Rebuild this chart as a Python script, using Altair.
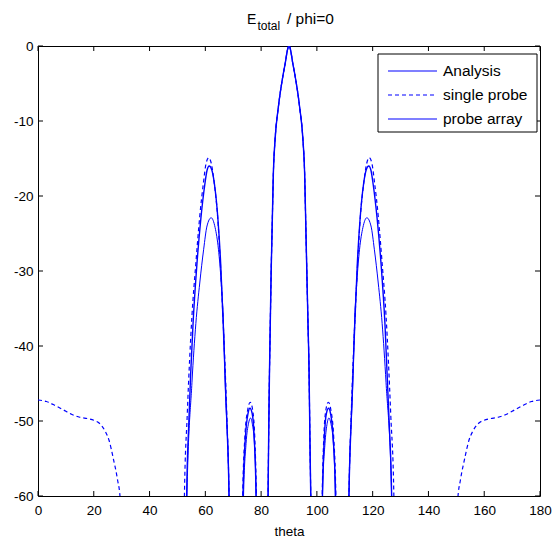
import altair as alt
import pandas as pd

BLUE = "#0000ff"
FONT = "Liberation Sans"

# ---------------- data ----------------
analysis_theta = [53.0, 53.3, 54.1, 55.6, 57.0, 58.4, 59.8, 60.6, 61.4, 62.3, 63.3, 64.5, 65.5, 66.4, 67.7, 68.5, 69.0,
                  73.1, 73.5, 74.4, 75.3, 76.0, 76.8, 77.5, 78.2, 78.7,
                  82.1, 82.5, 82.7, 83.0, 83.3, 83.6, 84.0, 84.4, 85.0, 86.2, 88.0, 88.7, 89.3, 89.7, 90.0,
                  90.3, 90.7, 91.3, 92.0, 93.8, 95.0, 95.6, 96.0, 96.4, 96.8, 97.2, 97.5, 97.8, 98.2,
                  101.5, 102.0, 102.7, 103.4, 104.2, 104.9, 105.8, 106.7, 107.1,
                  111.0, 111.5, 112.3, 113.6, 114.5, 115.5, 116.7, 117.7, 118.6, 119.4, 120.2, 121.6, 123.0, 124.4, 125.9, 126.8, 127.2]
analysis_db = [-75, -60, -50, -37, -29, -23, -18.5, -16.6, -16.0, -16.5, -18.5, -23, -29, -37, -50, -60, -75,
               -75, -60, -52, -49, -48.3, -49, -52, -60, -75,
               -75, -60, -52.4, -43.5, -36.8, -30.2, -23.5, -16.9, -12.5, -8.1, -3.6, -2.2, -0.8, -0.15, 0,
               -0.15, -0.8, -2.2, -3.6, -8.1, -12.5, -16.9, -23.5, -30.2, -36.8, -43.5, -52.4, -60, -75,
               -75, -60, -52, -49, -48.3, -49, -52, -60, -75,
               -75, -60, -50, -37, -29, -23, -18.5, -16.5, -16.0, -16.6, -18.5, -23, -29, -37, -50, -60, -75]

single_theta = [0, 3, 6, 9, 12, 15, 18, 20, 22, 24, 25.5, 27, 28.5, 29.5, 30.5,
                52.0, 52.5, 53.5, 55.2, 56.6, 58.0, 59.3, 60.3, 61.2, 62.1, 63.2, 64.4, 65.4, 66.3, 67.7, 68.5, 69.0,
                73.0, 73.4, 74.2, 75.2, 76.1, 77.0, 77.7, 78.3, 78.8,
                82.1, 82.5, 82.7, 83.0, 83.3, 83.6, 84.0, 84.4, 85.0, 86.2, 88.0, 88.7, 89.3, 89.7, 90.0,
                90.3, 90.7, 91.3, 92.0, 93.8, 95.0, 95.6, 96.0, 96.4, 96.8, 97.2, 97.5, 97.8, 98.2,
                101.4, 101.9, 102.5, 103.2, 104.1, 105.0, 106.0, 106.8, 107.2,
                111.0, 111.5, 112.3, 113.7, 114.6, 115.6, 116.8, 117.9, 118.8, 119.7, 120.7, 122.0, 123.4, 124.8, 126.5, 127.6, 128.1,
                149.5, 150.5, 151.5, 153.0, 154.5, 156.0, 158.0, 160.0, 162.0, 165.0, 168.0, 171.0, 174.0, 177.0, 180.0]
single_db = [-47.2, -47.4, -47.9, -48.5, -49.1, -49.5, -49.7, -49.9, -50.3, -51.3, -52.6, -55.0, -57.8, -60.5, -75,
             -75, -60, -49.3, -36.0, -29.0, -22.7, -18.3, -15.6, -14.9, -15.6, -18.3, -22.7, -29.0, -36.0, -49.3, -60, -75,
             -75, -60, -52, -48.5, -47.5, -48.6, -52, -60, -75,
             -75, -60, -52.4, -43.5, -36.8, -30.2, -23.5, -16.9, -12.5, -8.1, -3.6, -2.2, -0.8, -0.15, 0,
             -0.15, -0.8, -2.2, -3.6, -8.1, -12.5, -16.9, -23.5, -30.2, -36.8, -43.5, -52.4, -60, -75,
             -75, -60, -52, -48.6, -47.5, -48.5, -52, -60, -75,
             -75, -60, -49.3, -36.0, -29.0, -22.7, -18.3, -15.6, -14.9, -15.6, -18.3, -22.7, -29.0, -36.0, -49.3, -60, -75,
             -75, -60.5, -57.8, -55.0, -52.6, -51.3, -50.3, -49.9, -49.7, -49.5, -49.1, -48.5, -47.9, -47.4, -47.2]

array_theta = [53.0, 53.4, 55.2, 56.6, 58.0, 59.4, 60.6, 62.1, 63.5, 64.7, 65.7, 66.5, 67.1, 68.5, 69.0,
               73.3, 73.7, 74.6, 75.5, 76.2, 76.9, 77.6, 78.2, 78.7,
               82.1, 82.5, 82.7, 83.0, 83.3, 83.6, 84.0, 84.4, 85.0, 86.2, 88.0, 88.7, 89.3, 89.7, 90.0,
               90.3, 90.7, 91.3, 92.0, 93.8, 95.0, 95.6, 96.0, 96.4, 96.8, 97.2, 97.5, 97.8, 98.2,
               101.5, 102.0, 102.9, 103.6, 104.3, 105.0, 105.9, 106.6, 107.0,
               111.0, 111.5, 112.9, 113.5, 114.3, 115.3, 116.5, 117.9, 119.4, 120.6, 122.0, 123.4, 124.8, 126.8, 127.2]
array_db = [-75, -60, -44.9, -37, -31.6, -27.1, -24.0, -22.9, -24.2, -27.1, -31.6, -37, -44.9, -60, -75,
            -75, -60, -53, -50.3, -49.6, -50.5, -53, -60, -75,
            -75, -60, -52.4, -43.5, -36.8, -30.2, -23.5, -16.9, -12.5, -8.1, -3.6, -2.2, -0.8, -0.15, 0,
            -0.15, -0.8, -2.2, -3.6, -8.1, -12.5, -16.9, -23.5, -30.2, -36.8, -43.5, -52.4, -60, -75,
            -75, -60, -53, -50.5, -49.6, -50.3, -53, -60, -75,
            -75, -60, -44.9, -37, -31.6, -27.1, -24.2, -22.9, -24.0, -27.1, -31.6, -37, -44.9, -60, -75]

x_ticks = [0, 20, 40, 60, 80, 100, 120, 140, 160, 180]
y_ticks = [0, -10, -20, -30, -40, -50, -60]
legend_labels = ["Analysis", "single probe", "probe array"]

W, H = 502, 450

df = pd.concat([
    pd.DataFrame({"theta": analysis_theta, "db": analysis_db, "series": "Analysis"}),
    pd.DataFrame({"theta": single_theta, "db": single_db, "series": "single probe"}),
    pd.DataFrame({"theta": array_theta, "db": array_db, "series": "probe array"}),
])

xscale = alt.Scale(domain=[0, 180], nice=False, zero=False)
yscale = alt.Scale(domain=[-60, 0], nice=False, zero=False)

xaxis = alt.Axis(values=x_ticks, ticks=False, domain=False, grid=False, labelPadding=7,
                 labelFontSize=13.5, labelColor="black", title="theta", titleFontSize=13.5,
                 titleFontWeight="normal", titleColor="black", titlePadding=8, labelFlush=False,
                 labelExpr="'' + datum.value")
yaxis = alt.Axis(values=y_ticks, ticks=False, domain=False, grid=False, labelPadding=5,
                 labelFontSize=13.5, labelColor="black", title="", labelFlush=False,
                 labelExpr="'' + datum.value")

base = alt.Chart(df)

def series_line(name, dash, width):
    kw = dict(clip=True, interpolate="monotone", color=BLUE, strokeWidth=width)
    if dash:
        kw["strokeDash"] = dash
    return base.transform_filter(alt.datum.series == name).mark_line(**kw).encode(
        x=alt.X("theta:Q", scale=xscale, axis=xaxis),
        y=alt.Y("db:Q", scale=yscale, axis=yaxis),
    )

l_an = series_line("Analysis", None, 1.4)
l_sp = series_line("single probe", [4, 3], 1.2)
l_pa = series_line("probe array", None, 1.0)

# inward ticks on all four sides
xt = pd.DataFrame({"theta": x_ticks})
yt = pd.DataFrame({"db": y_ticks})
tick_bottom = alt.Chart(xt).mark_rule(color="black", strokeWidth=1).encode(
    x=alt.X("theta:Q", scale=xscale, axis=xaxis), y=alt.value(H), y2=alt.value(H - 5))
tick_top = alt.Chart(xt).mark_rule(color="black", strokeWidth=1).encode(
    x=alt.X("theta:Q", scale=xscale, axis=xaxis), y=alt.value(0), y2=alt.value(5))
tick_left = alt.Chart(yt).mark_rule(color="black", strokeWidth=1).encode(
    y=alt.Y("db:Q", scale=yscale, axis=yaxis), x=alt.value(0), x2=alt.value(5))
tick_right = alt.Chart(yt).mark_rule(color="black", strokeWidth=1).encode(
    y=alt.Y("db:Q", scale=yscale, axis=yaxis), x=alt.value(W), x2=alt.value(W - 5))

# legend (drawn manually, MATLAB style)
one = pd.DataFrame({"k": [0]})
LX = W - 162
leg_box = alt.Chart(one).mark_rect(fill="white", stroke="black", strokeWidth=1).encode(
    x=alt.value(LX), x2=alt.value(LX + 159), y=alt.value(8), y2=alt.value(86))
leg_rows = [25, 49, 73]
leg_dash = [None, [4, 3], None]
leg_layers = [leg_box]
for lab, yy, dsh in zip(legend_labels, leg_rows, leg_dash):
    kw = dict(color=BLUE, strokeWidth=1.1)
    if dsh:
        kw["strokeDash"] = dsh
    leg_layers.append(alt.Chart(one).mark_rule(**kw).encode(
        x=alt.value(LX + 10), x2=alt.value(LX + 59), y=alt.value(yy)))
    leg_layers.append(alt.Chart(pd.DataFrame({"t": [lab]})).mark_text(
        align="left", baseline="middle", fontSize=15.5, font=FONT, color="black").encode(
        text="t:N", x=alt.value(LX + 65), y=alt.value(yy)))

# title "E_total / phi=0"
title_layers = [
    alt.Chart(pd.DataFrame({"t": ["E"]})).mark_text(
        align="left", baseline="alphabetic", fontSize=14, font=FONT, color="black").encode(
        text="t:N", x=alt.value(209), y=alt.value(-22)),
    alt.Chart(pd.DataFrame({"t": ["total"]})).mark_text(
        align="left", baseline="alphabetic", fontSize=12, font=FONT, color="black").encode(
        text="t:N", x=alt.value(219.5), y=alt.value(-16)),
    alt.Chart(pd.DataFrame({"t": ["/ phi=0"]})).mark_text(
        align="left", baseline="alphabetic", fontSize=15.5, font=FONT, color="black").encode(
        text="t:N", x=alt.value(249), y=alt.value(-22)),
]

chart = alt.layer(
    l_pa, l_an, l_sp,
    tick_bottom, tick_top, tick_left, tick_right,
    *leg_layers, *title_layers,
).properties(
    width=W, height=H,
    autosize=alt.AutoSizeParams(type="none"),
    padding={"left": 30, "top": 38, "right": 12, "bottom": 42},
).configure(font=FONT).configure_view(stroke="black", strokeWidth=1)

chart.save("out.html", embed_options={"renderer": "svg", "actions": False})
